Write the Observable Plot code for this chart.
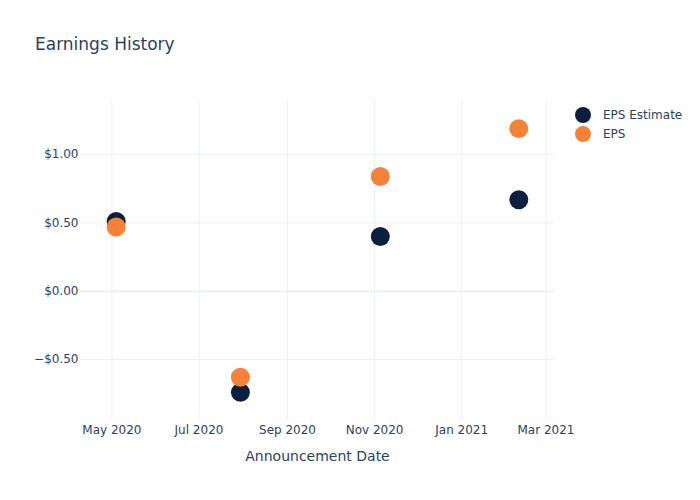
<!DOCTYPE html>
<html>
<head>
<meta charset="utf-8">
<script src="https://cdn.jsdelivr.net/npm/d3@7"></script>
<script src="https://cdn.jsdelivr.net/npm/@observablehq/plot@0.6"></script>
<style>
  body { margin: 0; background: #fff; font-family: "DejaVu Sans", sans-serif; }
  #wrap { position: relative; width: 700px; height: 500px; }
  #title { position: absolute; left: 35px; top: 34px; font-size: 17px; color: #2a3f5f; }
  #legend { position: absolute; left: 575px; top: 105px; font-size: 12px; color: #2a3f5f; }
  .li { display: flex; align-items: center; height: 19px; }
  .dot { width: 16px; height: 16px; border-radius: 50%; margin-right: 12px; }
</style>
</head>
<body>
<div id="wrap">
  <div id="title">Earnings History</div>
  <div id="legend"></div>
</div>
<script>
const dates = ["2020-05-04", "2020-07-30", "2020-11-05", "2021-02-10"];
const epsEstimate = [0.51, -0.74, 0.40, 0.67];
const eps = [0.47, -0.63, 0.84, 1.19];
const seriesNames = ["EPS Estimate", "EPS"];
const seriesColors = ["#0d1f3f", "#f58237"];
const xTicks = ["2020-05-01", "2020-07-01", "2020-09-01", "2020-11-01", "2021-01-01", "2021-03-01"];
const yTicks = [-0.5, 0, 0.5, 1.0];

const rows = [];
dates.forEach((d, i) => {
  rows.push({date: new Date(d), value: epsEstimate[i], series: seriesNames[0]});
});
dates.forEach((d, i) => {
  rows.push({date: new Date(d), value: eps[i], series: seriesNames[1]});
});

const fmtMoney = v => (v < 0 ? "\u2212$" : "$") + Math.abs(v).toFixed(2);
const fmtDate = d3.utcFormat("%b %Y");

const chart = Plot.plot({
  width: 700,
  height: 500,
  marginLeft: 80,
  marginRight: 146,
  marginTop: 100,
  marginBottom: 80,
  style: {fontFamily: "DejaVu Sans, sans-serif", fontSize: "12px", color: "#2a3f5f", background: "transparent"},
  x: {
    type: "utc",
    domain: [new Date("2020-04-09"), new Date("2021-03-07")],
    ticks: xTicks.map(d => new Date(d)),
    tickFormat: fmtDate,
    tickSize: 0,
    tickPadding: 5,
    label: null
  },
  y: {
    domain: [-0.946, 1.396],
    ticks: yTicks,
    tickFormat: fmtMoney,
    tickSize: 0,
    tickPadding: 2,
    label: null
  },
  color: {domain: seriesNames, range: seriesColors},
  marks: [
    Plot.gridX(xTicks.map(d => new Date(d)), {stroke: "#ebf0f8", strokeOpacity: 1, strokeWidth: 1}),
    Plot.gridY(yTicks.filter(v => v !== 0), {stroke: "#ebf0f8", strokeOpacity: 1, strokeWidth: 1}),
    Plot.ruleY([0], {stroke: "#ebf0f8", strokeWidth: 2}),
    Plot.axisX({ticks: xTicks.map(d => new Date(d)), tickFormat: fmtDate, tickSize: 0, tickPadding: 5, label: null, fill: "#2a3f5f"}),
    Plot.axisY({ticks: yTicks, tickFormat: fmtMoney, tickSize: 0, tickPadding: 2, label: null, fill: "#2a3f5f"}),
    Plot.dot(rows, {x: "date", y: "value", fill: "series", r: 9.5}),
    Plot.text(["Announcement Date"], {frameAnchor: "bottom", dy: 40, fontSize: 14, fill: "#2a3f5f"})
  ]
});
chart.style.position = "absolute";
chart.style.left = "0";
chart.style.top = "0";
const wrap = document.getElementById("wrap");
wrap.insertBefore(chart, wrap.firstChild);

const legend = document.getElementById("legend");
seriesNames.forEach((name, i) => {
  const li = document.createElement("div");
  li.className = "li";
  const dot = document.createElement("div");
  dot.className = "dot";
  dot.style.background = seriesColors[i];
  const label = document.createElement("span");
  label.textContent = name;
  li.appendChild(dot);
  li.appendChild(label);
  legend.appendChild(li);
});
</script>
</body>
</html>
